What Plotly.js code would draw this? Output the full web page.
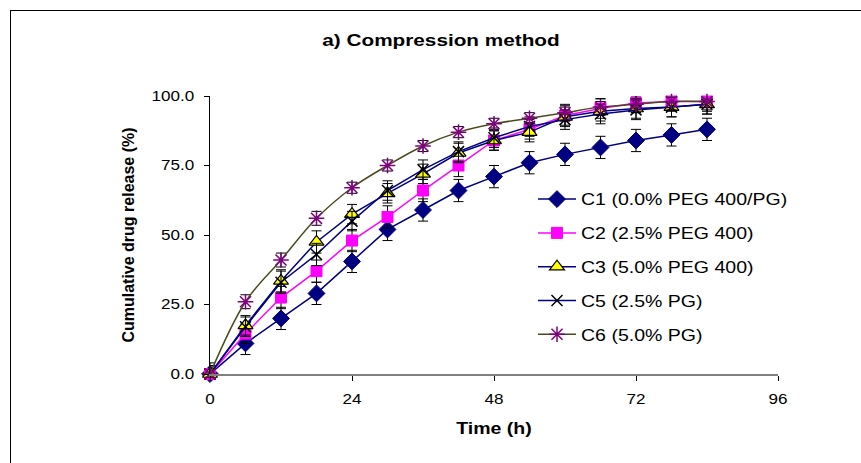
<!DOCTYPE html>
<html>
<head>
<meta charset="utf-8">
<script src="https://cdn.plot.ly/plotly-3.0.1.min.js"></script>
<style>
html,body{margin:0;padding:0;background:#fff;}
#wrap{position:relative;width:861px;height:463px;overflow:hidden;}
#chart{width:861px;height:463px;}
#frame{position:absolute;left:10px;top:10px;width:900px;height:500px;border:1px solid #000;pointer-events:none;}
</style>
</head>
<body>
<div id="wrap"><div id="chart"></div><div id="frame"></div></div>
<script>
const time = [0, 6, 12, 18, 24, 30, 36, 42, 48, 54, 60, 66, 72, 78, 84];
const c1 = [0, 11, 20, 29, 40.5, 52, 59, 66, 71, 76, 79, 81.5, 84, 86, 88];
const c1Err = [4, 4, 4, 4, 4, 4, 4, 4, 4, 4, 4, 4, 4, 4, 4];
const c2 = [0, 14.5, 27.5, 37, 48, 56.5, 66, 75, 84, 88, 93, 95.5, 97.5, 98, 98];
const c2Err = [3, 3.5, 4, 4, 4, 4, 4, 4, 3.5, 3.5, 3.5, 3.5, 3.5, 3.5, 3.5];
const c3 = [0, 17.5, 33.5, 47.5, 57.5, 65, 72, 79.5, 84, 87, 92.5, 94.5, 95.5, 96, 97];
const c3Err = [3, 3.5, 4, 4, 3.5, 3.5, 3.5, 3.5, 3.5, 3.5, 3.5, 3.5, 3.5, 3.5, 3.5];
const c5 = [0, 17, 33, 43, 55, 66, 73.5, 80, 85, 89, 91.5, 93.5, 95, 96, 97];
const c5Err = [3, 3.5, 4, 4, 3.5, 3.5, 3.5, 3.5, 3.5, 3.5, 3.5, 3.5, 3.5, 3.5, 3.5];
const c6 = [0, 26, 41, 56, 67, 75, 82, 87, 90, 92, 94, 96, 97, 98, 98];
const c6Err = [2, 2.5, 2.5, 2.5, 2, 2, 2, 2, 2, 2, 3, 3, 3, 3, 3];
const names = ['C1 (0.0% PEG 400/PG)', 'C2 (2.5% PEG 400)', 'C3 (5.0% PEG 400)', 'C5 (2.5% PG)', 'C6 (5.0% PG)'];
const xTicks = [0, 24, 48, 72, 96];
const yTicks = [0, 25, 50, 75, 100];
const yTickText = ['0.0', '25.0', '50.0', '75.0', '100.0'];

const FONT = 'Liberation Sans, Arial, sans-serif';
function errBar(arr){return {type:'data', array:arr, visible:true, color:'#000', thickness:1, width:5};}

const traces = [
  {x:time, y:c1, name:names[0], mode:'lines+markers', error_y:errBar(c1Err), legendgroup:'g1',
   line:{color:'#000080', width:1.5}, marker:{symbol:'diamond', size:13, color:'#000080', line:{color:'#000080', width:1}}},
  {x:time, y:c2, name:names[1], mode:'lines+markers', error_y:errBar(c2Err), legendgroup:'g2',
   line:{color:'#FF00FF', width:1.5}, marker:{symbol:'square', size:11, color:'#FF00FF', line:{color:'#FF00FF', width:1}}},
  {x:time, y:c3, name:names[2], mode:'lines+markers', error_y:errBar(c3Err), legendgroup:'g3',
   line:{color:'#000080', width:1.5}, marker:{symbol:'triangle-up', size:13, color:'#FFFF00', line:{color:'#000', width:1.2}}},
  {x:time, y:c5, name:names[3], mode:'lines+markers', error_y:errBar(c5Err), legendgroup:'g4',
   line:{color:'#000080', width:1.5}, marker:{symbol:'x-thin-open', size:11, color:'#000', line:{color:'#000', width:1.5}}},
  {x:time, y:c6, name:names[4], mode:'lines+markers', error_y:errBar(c6Err), legendgroup:'g5',
   line:{color:'#4a4a1e', width:1.5, shape:'spline', smoothing:1}, marker:{symbol:'asterisk-open', size:13, color:'#800080', line:{color:'#800080', width:1.5}}}
];
traces.forEach(t=>{t.cliponaxis=false;});

const layout = {
  width:861, height:463,
  margin:{l:210, r:83, t:96, b:89},
  paper_bgcolor:'#fff', plot_bgcolor:'#fff',
  font:{family:FONT, size:14, color:'#000'},
  title:{text:'<b>a) Compression method</b>', x:441/861, xref:'container', xanchor:'center', y:1-40/463, yref:'container', yanchor:'middle', font:{size:17, family:FONT, color:'#000'}},
  xaxis:{range:[0,96], tickvals:xTicks, ticktext:xTicks.map(String), ticks:'outside', ticklen:5, tickcolor:'#000', showgrid:false, zeroline:false,
    showline:true, linecolor:'#808080', linewidth:1.5, ticklabelstandoff:7, tickfont:{size:14},
    title:{text:'<b>Time (h)</b>', font:{size:16}, standoff:16}},
  yaxis:{range:[0,100], tickvals:yTicks, ticktext:yTickText, ticks:'outside', ticklen:5, tickcolor:'#000', showgrid:false, zeroline:false,
    showline:true, linecolor:'#000', linewidth:1, ticklabelstandoff:7, tickfont:{size:14},
    title:{text:'<b>Cumulative drug release (%)</b>', font:{size:16}, standoff:20}},
  showlegend:true,
  legend:{x:(533-210)/568, xanchor:'left', y:0.69, yanchor:'top', bgcolor:'rgba(0,0,0,0)', font:{size:16, family:FONT},
    traceorder:'grouped', tracegroupgap:10, itemwidth:38}
};

const gd = document.getElementById('chart');
Plotly.newPlot(gd, traces, layout, {staticPlot:true, displayModeBar:false}).then(function(){
  // the reference chart's lettering is horizontally widened; reproduce that on horizontal text
  gd.querySelectorAll('text').forEach(function(el){
    if (el.closest('.g-ytitle') || el.classList.contains('ytitle')) return;
    const L = el.getComputedTextLength();
    if (L > 0) {
      el.setAttribute('textLength', (L * 1.22).toFixed(2));
      el.setAttribute('lengthAdjust', 'spacingAndGlyphs');
    }
  });
  // let the widened legend text extend past the legend's clip box
  gd.querySelectorAll('.legend [clip-path]').forEach(function(el){ el.removeAttribute('clip-path'); });
});
</script>
</body>
</html>
